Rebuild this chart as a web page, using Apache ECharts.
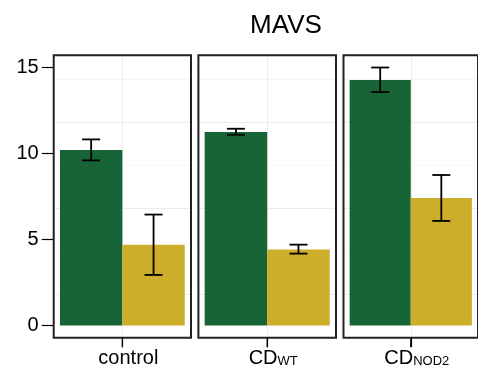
<!DOCTYPE html>
<html>
<head>
<meta charset="utf-8">
<script src="https://cdn.jsdelivr.net/npm/echarts@6/dist/echarts.min.js"></script>
<style>
html,body{margin:0;padding:0;background:#fff;}
#chart{width:478px;height:372px;}
</style>
</head>
<body>
<div id="chart"></div>
<script>
// ---- data ----
var title = 'MAVS';
var categories = ['control', 'CD{sub|WT}', 'CD{sub|NOD2}'];
var greenMean = [10.2, 11.25, 14.27];
var greenLow  = [9.6, 11.09, 13.57];
var greenHigh = [10.82, 11.44, 15.0];
var yellowMean = [4.69, 4.42, 7.42];
var yellowLow  = [2.94, 4.18, 6.08];
var yellowHigh = [6.45, 4.70, 8.75];
var yTickValues = [0, 5, 10, 15];
var Y_MIN = -0.71, Y_MAX = 15.71;

// ---- style ----
var GREEN = '#176537';
var YELLOW = '#CDAE2A';
var FONT = 'Liberation Sans, Arial, Helvetica, sans-serif';
var GAP = 0.091;
var panels = [
  {left: 53.7, width: 137.3},
  {left: 198.4, width: 137.6},
  {left: 343.5, width: 137.5}
];
var TOP = 55.3, HEIGHT = 282.4;

var chart = echarts.init(document.getElementById('chart'), null, {renderer: 'canvas'});

var grids = [], xAxes = [], yAxes = [], series = [];
panels.forEach(function (p, i) {
  grids.push({
    left: p.left, top: TOP, width: p.width, height: HEIGHT,
    show: true, backgroundColor: 'transparent', borderColor: '#222', borderWidth: 2,
    z: 5, containLabel: false
  });
  // category axis for bars + labels
  xAxes.push({
    type: 'category', gridIndex: i, data: [categories[i]], position: 'bottom', z: 6,
    axisLine: {show: false, onZero: false},
    axisTick: {show: true, alignWithLabel: true, inside: false, length: 9.5, lineStyle: {color: '#000', width: 1.2}},
    splitLine: {show: false},
    axisLabel: {
      show: true, margin: 11, color: '#000', fontFamily: FONT, fontSize: 20,
      padding: [0, 0, 0, 12],
      rich: {
        sub: {fontSize: 13, fontFamily: FONT, color: '#000', verticalAlign: 'bottom', lineHeight: 13, padding: [0, 0, 1, 0]}
      }
    }
  });
  // value axis only for the vertical center grid line
  xAxes.push({
    type: 'value', gridIndex: i, min: 0, max: 2, interval: 1, position: 'top',
    axisLine: {show: false, onZero: false}, axisTick: {show: false}, axisLabel: {show: false},
    splitLine: {show: true, showMinLine: false, showMaxLine: false, lineStyle: {color: '#EBEBEB', width: 1}}
  });
  // y axis for grid lines (major + minor), hosts the series
  yAxes.push({
    type: 'value', gridIndex: i, min: Y_MIN, max: Y_MAX, interval: 2.5, position: 'right',
    axisLine: {show: false, onZero: false}, axisTick: {show: false}, axisLabel: {show: false},
    splitLine: {show: true, showMinLine: false, showMaxLine: false, lineStyle: {color: ['#EBEBEB', '#F6F6F6'], width: 1}}
  });
  // y axis for labels and ticks
  yAxes.push({
    type: 'value', gridIndex: i, min: Y_MIN, max: Y_MAX, interval: 5, position: 'left',
    axisLine: {show: false, onZero: false},
    axisTick: {show: i === 0, customValues: yTickValues, length: 12, lineStyle: {color: '#000', width: 1.2}},
    axisLabel: {show: i === 0, customValues: yTickValues, margin: 15, color: '#000', fontFamily: FONT, fontSize: 20},
    splitLine: {show: false}
  });
  var xi = i * 2, yi = i * 2;
  series.push({
    type: 'bar', xAxisIndex: xi, yAxisIndex: yi, data: [greenMean[i]],
    itemStyle: {color: GREEN}, barGap: '0%', barCategoryGap: (GAP * 100) + '%', silent: true
  });
  series.push({
    type: 'bar', xAxisIndex: xi, yAxisIndex: yi, data: [yellowMean[i]],
    itemStyle: {color: YELLOW}, barGap: '0%', barCategoryGap: (GAP * 100) + '%', silent: true
  });
  // error bars
  series.push({
    type: 'custom', xAxisIndex: xi, yAxisIndex: yi, z: 10, silent: true,
    encode: {x: 0, y: [2, 3]},
    data: [[0, 0, greenLow[i], greenHigh[i]], [0, 1, yellowLow[i], yellowHigh[i]]],
    renderItem: function (params, api) {
      var cat = api.value(0), s = api.value(1), lo = api.value(2), hi = api.value(3);
      var band = api.size([1, 0])[0];
      var bw = band * (1 - GAP) / 2;
      var pLo = api.coord([cat, lo]);
      var pHi = api.coord([cat, hi]);
      var cx = pLo[0] + (s === 0 ? -bw / 2 : bw / 2);
      var hw = 9;
      var st = {stroke: '#000', lineWidth: 1.8};
      return {
        type: 'group',
        children: [
          {type: 'line', shape: {x1: cx, y1: pLo[1], x2: cx, y2: pHi[1]}, style: st},
          {type: 'line', shape: {x1: cx - hw, y1: pLo[1], x2: cx + hw, y2: pLo[1]}, style: st},
          {type: 'line', shape: {x1: cx - hw, y1: pHi[1], x2: cx + hw, y2: pHi[1]}, style: st}
        ]
      };
    }
  });
});

chart.setOption({
  animation: false,
  backgroundColor: '#fff',
  title: {
    text: title, left: 286, top: 13, textAlign: 'center', padding: 0,
    textStyle: {fontFamily: FONT, fontSize: 26, fontWeight: 'normal', color: '#000'}
  },
  grid: grids,
  xAxis: xAxes,
  yAxis: yAxes,
  series: series
});

// x-axis tick marks below each panel, placed through the library's own scales
var tickEls = [];
panels.forEach(function (p, i) {
  var pt = chart.convertToPixel({xAxisIndex: i * 2, yAxisIndex: i * 2}, [0, Y_MIN]);
  if (pt) {
    tickEls.push({
      type: 'line', z: 100, silent: true,
      shape: {x1: pt[0], y1: pt[1] + 1, x2: pt[0], y2: pt[1] + 9.5},
      style: {stroke: '#000', lineWidth: 1.2}
    });
  }
});
chart.setOption({graphic: {elements: tickEls}});
</script>
</body>
</html>
